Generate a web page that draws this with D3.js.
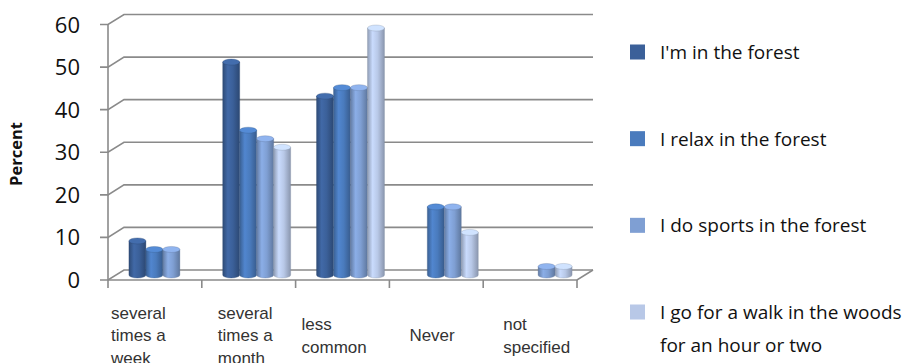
<!DOCTYPE html>
<html>
<head>
<meta charset="utf-8">
<script src="https://cdn.jsdelivr.net/npm/d3@7"></script>
<style>
  html, body { margin: 0; padding: 0; background: #ffffff; }
  svg { display: block; }
</style>
</head>
<body>
<svg id="chart" width="904" height="363"></svg>
<script>
// ---- data ----
const categories = ["several times a week", "several times a month", "less common", "Never", "not specified"];
const categoryLines = [["several", "times a", "week"], ["several", "times a", "month"], ["less", "common"], ["Never"], ["not", "specified"]];
const seriesNames = ["I'm in the forest", "I relax in the forest", "I do sports in the forest", "I go for a walk in the woods for an hour or two"];
const legendLines = [["I'm in the forest"], ["I relax in the forest"], ["I do sports in the forest"], ["I go for a walk in the woods", "for an hour or two"]];
const inForest = [8, 50, 42, 0, 0];
const relaxing = [6, 34, 44, 16, 0];
const sports   = [6, 32, 44, 16, 2];
const walking  = [0, 30, 58, 10, 2];
const yTicks = [0, 10, 20, 30, 40, 50, 60];

// ---- layout & style ----
const seriesValues = [inForest, relaxing, sports, walking];
const seriesColors = ["#3b6099", "#4a7bbd", "#7f9fd3", "#b8c8e7"];
const gridColor = "#8a8a8a";
const DX = 16, DY = -10;            // depth offset of the back wall
const labelShift = [3, 16, 6, 20, 20];

const svg = d3.select("#chart");
const defs = svg.append("defs");

const x = d3.scaleBand().domain(categories).range([108, 577]).padding(0);
const y = d3.scaleLinear().domain([0, 60]).range([280, 24.5]);
const sub = d3.scaleBand().domain(seriesNames).range([0, x.bandwidth()])
  .paddingInner(0).paddingOuter(0.76);

// ---- walls / grid ----
const grid = svg.append("g").attr("fill", "none").attr("stroke", gridColor).attr("stroke-width", 1.6);
yTicks.forEach(t => {
  const y0 = y(t);
  grid.append("path").attr("d", `M${x.range()[0] - 8},${y0} L${x.range()[0]},${y0} L${x.range()[0] + DX},${y0 + DY} L${x.range()[1] + DX},${y0 + DY}`);
});
// vertical axis
grid.append("line").attr("x1", x.range()[0]).attr("x2", x.range()[0]).attr("y1", y(60)).attr("y2", y(0));
// floor front edge and right side
grid.append("path").attr("d", `M${x.range()[0]},${y(0)} L${x.range()[1]},${y(0)} L${x.range()[1] + DX},${y(0) + DY}`);
// category ticks
const tickXs = categories.map(c => x(c)).concat([x.range()[1]]);
tickXs.forEach(tx => {
  grid.append("line").attr("x1", tx).attr("x2", tx).attr("y1", y(0)).attr("y2", y(0) + 8);
});

// ---- y tick labels ----
svg.append("g").selectAll("text").data(yTicks).join("text")
  .attr("x", 80).attr("y", d => y(d) + 8)
  .attr("text-anchor", "end")
  .attr("font-family", "'Open Sans', sans-serif").attr("font-size", 22)
  .attr("fill", "#111")
  .text(d => d);

// axis title
svg.append("text")
  .attr("transform", "translate(22,154) rotate(-90)")
  .attr("text-anchor", "middle")
  .attr("font-family", "'Open Sans', sans-serif").attr("font-size", 16.5).attr("font-weight", "bold")
  .attr("fill", "#111")
  .text("Percent");

// ---- gradients for cylinders ----
seriesColors.forEach((c, i) => {
  const g = defs.append("linearGradient").attr("id", "cyl" + i)
    .attr("x1", "0%").attr("x2", "100%").attr("y1", "0%").attr("y2", "0%");
  const base = d3.color(c);
  g.append("stop").attr("offset", "0%").attr("stop-color", base.darker(0.7));
  g.append("stop").attr("offset", "30%").attr("stop-color", base.brighter(0.25));
  g.append("stop").attr("offset", "60%").attr("stop-color", base);
  g.append("stop").attr("offset", "100%").attr("stop-color", base.darker(0.8));
});

// ---- bars (cylinders at half depth) ----
const ry = 3;
const bars = [];
categories.forEach((cat, ci) => {
  seriesNames.forEach((s, si) => {
    const v = seriesValues[si][ci];
    if (v > 0) bars.push({ cat, s, si, v });
  });
});
const barG = svg.append("g");
bars.forEach(b => {
  const xl = x(b.cat) + DX / 2 + sub(b.s);
  const w = sub.bandwidth();
  const xr = xl + w;
  const rx = w / 2;
  const yb = y(0) + DY / 2;
  const yt = y(b.v) + DY / 2;
  const edge = d3.color(seriesColors[b.si]).darker(1);
  barG.append("path")
    .attr("d", `M${xl},${yt} L${xl},${yb} A${rx},${ry} 0 0 0 ${xr},${yb} L${xr},${yt} Z`)
    .attr("fill", `url(#cyl${b.si})`)
    .attr("stroke", edge).attr("stroke-opacity", 0.5).attr("stroke-width", 0.6);
  barG.append("ellipse")
    .attr("cx", xl + rx).attr("cy", yt).attr("rx", rx).attr("ry", ry)
    .attr("fill", d3.color(seriesColors[b.si]).brighter(0.35))
    .attr("stroke", edge).attr("stroke-opacity", 0.5).attr("stroke-width", 0.6);
});

// ---- category labels ----
const lineH = 22.5, midBase = 341.3;
categories.forEach((cat, ci) => {
  const lines = categoryLines[ci];
  const t = svg.append("text")
    .attr("font-family", "'Liberation Sans', Arial, sans-serif").attr("font-size", 17)
    .attr("fill", "#333");
  lines.forEach((ln, li) => {
    t.append("tspan")
      .attr("x", x(cat) + labelShift[ci])
      .attr("y", midBase + (li - (lines.length - 1) / 2) * lineH)
      .text(ln);
  });
});

// ---- legend ----
const legendY = d3.scalePoint().domain(seriesNames).range([52, 312]);
const leg = svg.append("g");
seriesNames.forEach((s, i) => {
  const cy = legendY(s);
  leg.append("rect").attr("x", 630).attr("y", cy - 7.5).attr("width", 15).attr("height", 15)
    .attr("fill", seriesColors[i]);
  const t = leg.append("text")
    .attr("font-family", "'Open Sans', sans-serif").attr("font-size", 19)
    .attr("fill", "#111");
  legendLines[i].forEach((ln, li) => {
    t.append("tspan").attr("x", 660).attr("y", cy + 7 + li * 33).text(ln);
  });
});
</script>
</body>
</html>
